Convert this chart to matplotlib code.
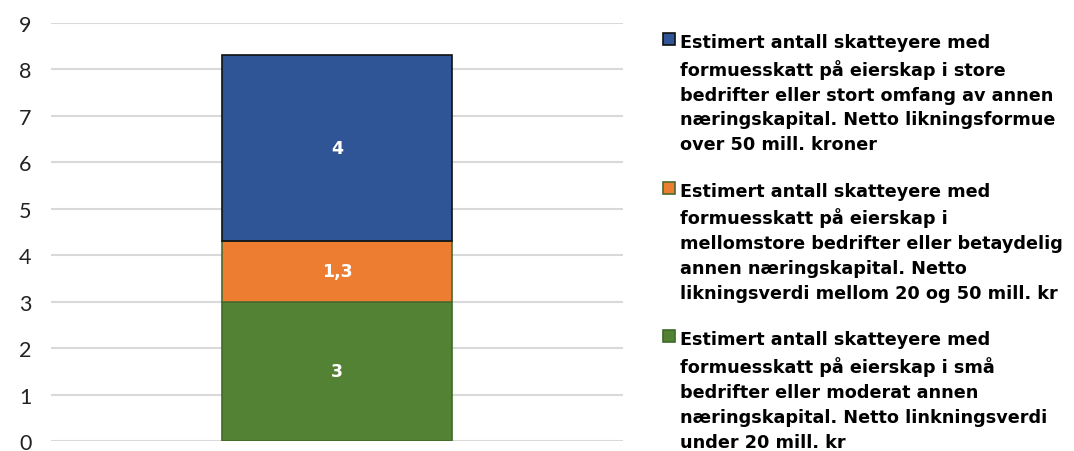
import matplotlib.pyplot as plt
from matplotlib.patches import Patch

plt.rcParams['font.family'] = ['DejaVu Sans']

labels = [
    "Estimert antall skatteyere med\nformuesskatt på eierskap i små\nbedrifter eller moderat annen\nnæringskapital. Netto linkningsverdi\nunder 20 mill. kr",
    "Estimert antall skatteyere med\nformuesskatt på eierskap i\nmellomstore bedrifter eller betaydelig\nannen næringskapital. Netto\nlikningsverdi mellom 20 og 50 mill. kr",
    "Estimert antall skatteyere med\nformuesskatt på eierskap i store\nbedrifter eller stort omfang av annen\nnæringskapital. Netto likningsformue\nover 50 mill. kroner",
]
values = [3, 1.3, 4]
value_text = ["3", "1,3", "4"]
colors = ['#548235', '#ED7D31', '#2F5597']
edges = ['#3f6a2a', '#4a6b2e', '#111111']

fig = plt.figure(figsize=(10.74, 4.52), dpi=100)
ax = fig.add_axes([0.0475, 0.022, 0.5325, 0.926])

bottom = 0
for v, t, c, e in zip(values, value_text, colors, edges):
    ax.bar(0, v, width=0.402, bottom=bottom, color=c, edgecolor=e, linewidth=1.2, zorder=3)
    ax.text(0, bottom + v / 2, t, color='white', fontsize=12.5, fontweight='bold',
            ha='center', va='center', zorder=4)
    bottom += v

ax.set_xlim(-0.5, 0.5)
ax.set_ylim(0, 9)
ax.set_yticks(range(10))
ax.set_xticks([])
ax.tick_params(axis='y', length=0, labelsize=15.5, pad=14, labelcolor='#222222')
for lab in ax.get_yticklabels():
    lab.set_family('Lato')
ax.grid(axis='y', color='#d9d9d9', linewidth=1.5, zorder=0)
for s in ax.spines.values():
    s.set_visible(False)

handles = [Patch(facecolor=c, edgecolor=e, linewidth=1.2) for c, e in zip(colors, edges)]
leg = fig.legend(handles[::-1], labels[::-1], loc='upper left', bbox_to_anchor=(0.617, 0.925),
                 frameon=False, prop={'weight': 'bold', 'size': 12.7},
                 handlelength=0.7, handleheight=0.7, handletextpad=0.3,
                 labelspacing=1.6, borderpad=0, borderaxespad=0)
for t in leg.get_texts():
    t.set_linespacing(1.49)
for col in leg._legend_handle_box.get_children():
    for item in col.get_children():
        item.align = 'top'

fig.savefig('out.png', dpi=100)
